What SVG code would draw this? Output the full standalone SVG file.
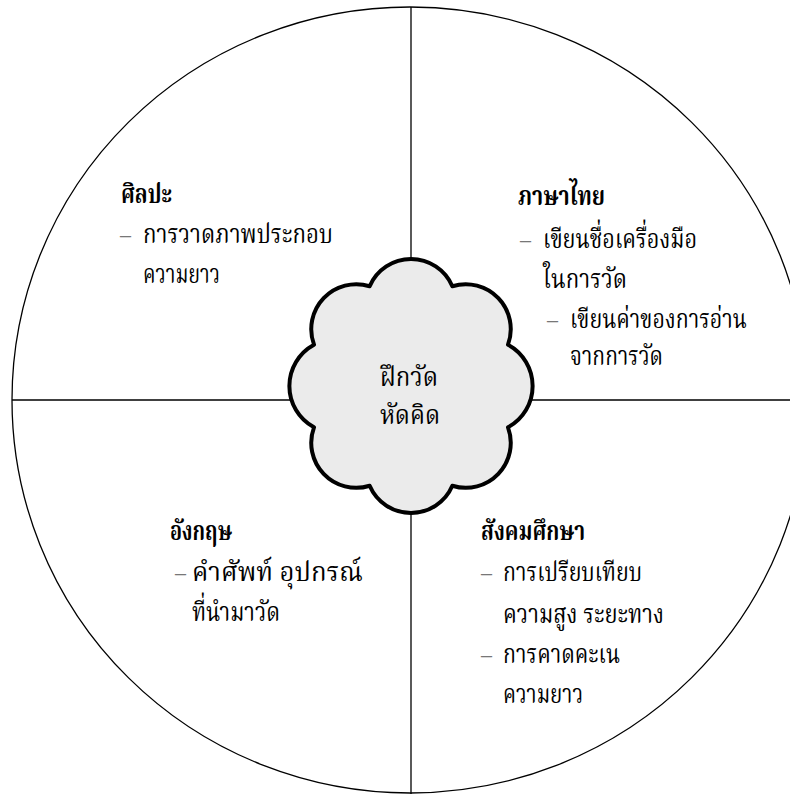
<svg xmlns="http://www.w3.org/2000/svg" width="790" height="796" viewBox="0 0 790 796">
<style>
text{font-family:"Norasi","Laksaman","TH Sarabun New","Noto Serif Thai","Noto Sans Thai","Liberation Serif",serif;font-size:27px;fill:#000}
.h{font-weight:bold}
.d{fill:#777;font-size:22px}
</style>
<rect width="790" height="796" fill="#fff"/>
<g id="frame" fill="none" stroke="#000" stroke-width="1.3">
<ellipse cx="410" cy="400" rx="398" ry="393"/>
</g>
<g id="connectors" stroke="#000" stroke-width="1.3">
<line x1="411" y1="7" x2="411" y2="794"/>
<line x1="12" y1="400" x2="790" y2="400"/>
</g>
<g id="center">
<path d="M508 344.67 A47 47 0 0 1 508 427.33 A45 45 0 0 1 452.33 485.78 A45 45 0 0 1 369.67 485.78 A45 45 0 0 1 314 427.33 A47 47 0 0 1 314 344.67 A45 45 0 0 1 369.67 286.22 A45 45 0 0 1 452.33 286.22 A45 45 0 0 1 508 344.67 Z" fill="#ebebeb" stroke="#000" stroke-width="4" stroke-linejoin="round"/>
<text x="380" y="386" textLength="58" lengthAdjust="spacingAndGlyphs">ฝึกวัด</text>
<text x="380" y="424" textLength="60" lengthAdjust="spacingAndGlyphs">หัดคิด</text>
</g>
<g id="art">
<text class="h" x="121" y="203" textLength="51" lengthAdjust="spacingAndGlyphs">ศิลปะ</text>
<text class="d" x="120" y="242">–</text>
<text x="143" y="243" textLength="190" lengthAdjust="spacingAndGlyphs">การวาดภาพประกอบ</text>
<text x="143" y="283" textLength="77" lengthAdjust="spacingAndGlyphs">ความยาว</text>
</g>
<g id="thai">
<text class="h" x="518" y="205" textLength="87" lengthAdjust="spacingAndGlyphs">ภาษาไทย</text>
<text class="d" x="520" y="247">–</text>
<text x="543" y="248" textLength="154" lengthAdjust="spacingAndGlyphs">เขียนชื่อเครื่องมือ</text>
<text x="543" y="288" textLength="84" lengthAdjust="spacingAndGlyphs">ในการวัด</text>
<text class="d" x="547" y="327">–</text>
<text x="570" y="328" textLength="177" lengthAdjust="spacingAndGlyphs">เขียนค่าของการอ่าน</text>
<text x="570" y="365" textLength="93" lengthAdjust="spacingAndGlyphs">จากการวัด</text>
</g>
<g id="english">
<text class="h" x="170" y="540" textLength="62" lengthAdjust="spacingAndGlyphs">อังกฤษ</text>
<text class="d" x="175" y="580">–</text>
<text x="192" y="581" textLength="171" lengthAdjust="spacingAndGlyphs">คำศัพท์ อุปกรณ์</text>
<text x="192" y="621" textLength="88" lengthAdjust="spacingAndGlyphs">ที่นำมาวัด</text>
</g>
<g id="social">
<text class="h" x="481" y="540" textLength="104" lengthAdjust="spacingAndGlyphs">สังคมศึกษา</text>
<text class="d" x="481" y="580">–</text>
<text x="503" y="581" textLength="139" lengthAdjust="spacingAndGlyphs">การเปรียบเทียบ</text>
<text x="503" y="623" textLength="161" lengthAdjust="spacingAndGlyphs">ความสูง ระยะทาง</text>
<text class="d" x="481" y="662">–</text>
<text x="503" y="663" textLength="117" lengthAdjust="spacingAndGlyphs">การคาดคะเน</text>
<text x="503" y="703" textLength="80" lengthAdjust="spacingAndGlyphs">ความยาว</text>
</g>
</svg>
